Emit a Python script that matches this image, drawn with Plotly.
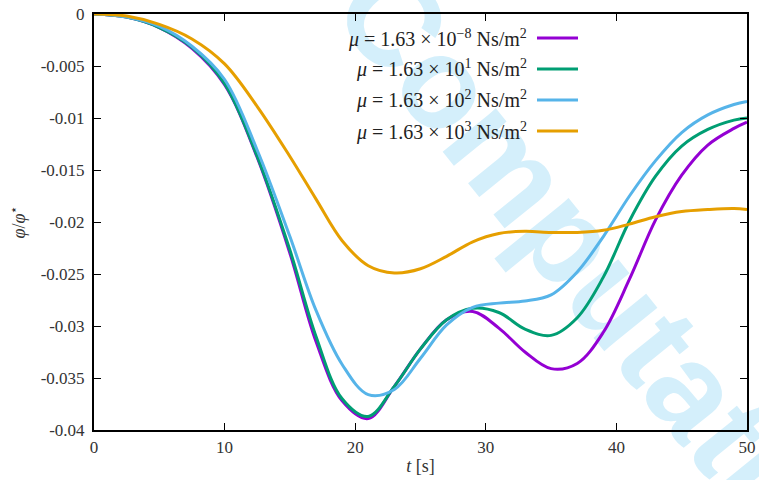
import base64
import plotly.graph_objects as go

# ---------------- data ----------------
t = [0, 2.5, 5, 7.5, 10, 12.5, 15, 17, 19, 21, 23, 25, 27, 29, 31, 33, 35,
     37, 39, 41, 43, 45, 47, 49, 50]

phi_mu_1e_8 = [0, -0.0003, -0.0013, -0.0033, -0.0068, -0.0138, -0.0230, -0.0315,
               -0.0372, -0.0389, -0.0358, -0.0322, -0.0294, -0.0286,
               -0.0302, -0.0325, -0.0341, -0.0336, -0.0306, -0.0255, -0.0198,
               -0.0155, -0.0126, -0.0110, -0.0104]
phi_mu_1e1 = [0, -0.0003, -0.0013, -0.0032, -0.0067, -0.0137, -0.0227, -0.0310,
              -0.0370, -0.0387, -0.0358, -0.0322, -0.0294, -0.0283,
              -0.0287, -0.0303, -0.0309, -0.0292, -0.0253, -0.0199, -0.0156,
              -0.0127, -0.0111, -0.0102, -0.0100]
phi_mu_1e2 = [0, -0.0003, -0.0012, -0.0031, -0.0063, -0.0131, -0.0214, -0.0285,
              -0.0337, -0.0366, -0.0361, -0.0331, -0.0299, -0.0282,
              -0.0278, -0.0276, -0.0270, -0.0248, -0.0214, -0.0175, -0.0141,
              -0.0114, -0.0097, -0.0087, -0.0084]
phi_mu_1e3 = [0, -0.0002, -0.0010, -0.0024, -0.0048, -0.0089, -0.0137, -0.0178,
              -0.0218, -0.0242, -0.0249, -0.0245, -0.0233, -0.0219,
              -0.0211, -0.0209, -0.0210, -0.0210, -0.0208, -0.0202, -0.0195,
              -0.0190, -0.0188, -0.0187, -0.0188]

series_labels = [
    "<i>μ</i> = 1.63 × 10<sup>−8</sup> Ns/m<sup>2</sup>",
    "<i>μ</i> = 1.63 × 10<sup>1</sup> Ns/m<sup>2</sup>",
    "<i>μ</i> = 1.63 × 10<sup>2</sup> Ns/m<sup>2</sup>",
    "<i>μ</i> = 1.63 × 10<sup>3</sup> Ns/m<sup>2</sup>",
]
series_values = [phi_mu_1e_8, phi_mu_1e1, phi_mu_1e2, phi_mu_1e3]
colors = ["#9400d3", "#009e73", "#56b4e9", "#e69f00"]

x_ticks = [0, 10, 20, 30, 40, 50]
y_ticks = [0, -0.005, -0.01, -0.015, -0.02, -0.025, -0.03, -0.035, -0.04]
y_ticktext = ["0", "-0.005", "-0.01", "-0.015", "-0.02", "-0.025", "-0.03",
              "-0.035", "-0.04"]

# ---------------- figure ----------------
W, H = 759, 480
ML, MR, MT, MB = 94, 12, 14, 50
PW, PH = W - ML - MR, H - MT - MB

FONT = "Liberation Serif, DejaVu Serif, serif"

fig = go.Figure()
for lab, vals, col in zip(series_labels, series_values, colors):
    fig.add_trace(go.Scatter(x=t, y=vals, mode="lines", name=lab,
                             line=dict(color=col, width=3, shape="spline",
                                       smoothing=1.0),
                             showlegend=False))

# manual gnuplot-style key: text right-aligned, sample line to the right
row0_px, row_step_px = 38, 31
text_right_px, line_x0_px, line_x1_px = 529, 537, 578
annotations = []
shapes = []
for i, (lab, col) in enumerate(zip(series_labels, colors)):
    yp = 1 - (row0_px + i * row_step_px - MT) / PH
    annotations.append(dict(xref="paper", yref="paper",
                            x=(text_right_px - ML) / PW, y=yp,
                            xanchor="right", yanchor="middle", text=lab,
                            showarrow=False,
                            font=dict(family=FONT, size=20, color="#222")))
    shapes.append(dict(type="line", xref="paper", yref="paper",
                       x0=(line_x0_px - ML) / PW, x1=(line_x1_px - ML) / PW,
                       y0=yp, y1=yp, line=dict(color=col, width=3)))

# watermark (behind the data)
svg = (f'<svg xmlns="http://www.w3.org/2000/svg" width="{W}" height="{H}" '
       f'viewBox="0 0 {W} {H}">'
       '<text x="328" y="10" transform="rotate(51 328 10)" '
       'font-family="Liberation Sans, Arial, sans-serif" font-weight="bold" '
       'font-size="130" fill="#d4effb">Computational</text></svg>')
src = "data:image/svg+xml;base64," + base64.b64encode(svg.encode()).decode()

axis_common = dict(ticks="inside", ticklen=7, tickwidth=1, tickcolor="black",
                   showline=True, linecolor="black", linewidth=2,
                   mirror="allticks", showgrid=False, zeroline=False,
                   automargin=False,
                   tickfont=dict(family=FONT, size=17, color="#333"))

fig.update_layout(
    width=W, height=H,
    margin=dict(l=ML, r=MR, t=MT, b=MB, pad=0, autoexpand=False),
    paper_bgcolor="white", plot_bgcolor="white",
    font=dict(family=FONT, size=17, color="#333"),
    annotations=annotations, shapes=shapes,
    images=[dict(source=src, xref="paper", yref="paper",
                 x=-ML / PW, y=1 + MT / PH, sizex=W / PW, sizey=H / PH,
                 xanchor="left", yanchor="top", sizing="stretch",
                 layer="below")],
    xaxis=dict(range=[0, 50], tickvals=x_ticks, ticklabelstandoff=1,
               title=dict(text="<i>t</i> [s]", standoff=3,
                          font=dict(family=FONT, size=18, color="#333")),
               **axis_common),
    yaxis=dict(range=[-0.04, 0], tickvals=y_ticks, ticktext=y_ticktext,
               ticklabelstandoff=4,
               title=dict(text="<i>φ</i>/<i>φ</i><sup>⋆</sup>", standoff=10,
                          font=dict(family=FONT, size=18, color="#333")),
               **axis_common),
)

fig.write_html("out.html")
